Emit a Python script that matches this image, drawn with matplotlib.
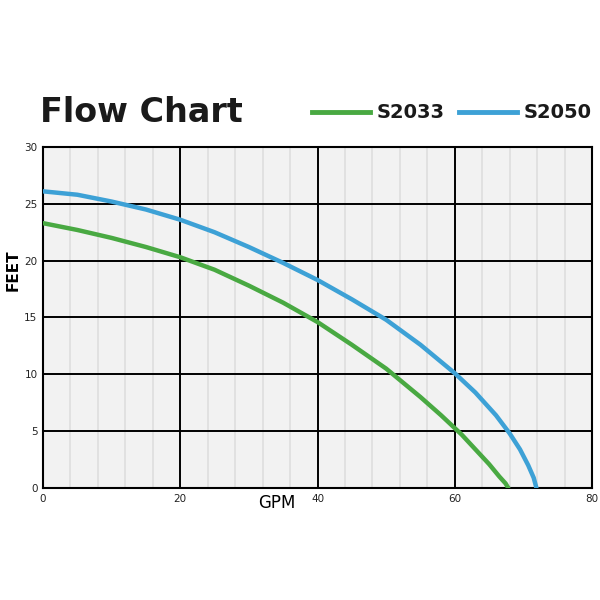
import numpy as np
import matplotlib.pyplot as plt

# pump curves (GPM vs FEET of head)
gpm_s2033 = [0, 5, 10, 15, 20, 25, 30, 35, 40, 45, 50, 55, 58, 61, 63, 65, 66.5, 67.4, 67.8]
feet_s2033 = [23.3, 22.7, 22.0, 21.2, 20.3, 19.2, 17.8, 16.3, 14.6, 12.6, 10.5, 8.0, 6.4, 4.7, 3.4, 2.1, 1.0, 0.4, 0]

gpm_s2050 = [0, 5, 10, 15, 20, 25, 30, 35, 40, 45, 50, 55, 60, 63, 66, 68, 69.5, 70.7, 71.5, 71.9]
feet_s2050 = [26.1, 25.8, 25.2, 24.5, 23.6, 22.5, 21.2, 19.8, 18.3, 16.6, 14.8, 12.6, 10.1, 8.4, 6.4, 4.8, 3.4, 2.0, 0.9, 0]

x_ticks = [0, 20, 40, 60, 80]
y_ticks = [0, 5, 10, 15, 20, 25, 30]
minor_x = [v for v in range(4, 80, 4) if v % 20 != 0]

green = '#49a942'
blue = '#3da1d6'
narrow = ['DejaVu Sans Condensed', 'Liberation Sans Narrow', 'DejaVu Sans']

fig = plt.figure(figsize=(6, 6), dpi=100)
ax = fig.add_axes([0.0717, 0.1867, 0.915, 0.5683])
ax.set_facecolor('#f2f2f2')

for v in minor_x:
    ax.axvline(v, color='#dedede', lw=1.2, zorder=1)
for v in x_ticks[1:-1]:
    ax.axvline(v, color='black', lw=1.4, zorder=2)
for v in y_ticks[1:-1]:
    ax.axhline(v, color='black', lw=1.4, zorder=2)

ax.plot(gpm_s2033, feet_s2033, color=green, lw=3.2, solid_capstyle='round',
        solid_joinstyle='round', zorder=3)
ax.plot(gpm_s2050, feet_s2050, color=blue, lw=3.2, solid_capstyle='round',
        solid_joinstyle='round', zorder=3)

ax.set_xlim(0, 80)
ax.set_ylim(0, 30)
ax.set_xticks(x_ticks)
ax.set_yticks(y_ticks)
ax.tick_params(length=0, labelsize=7.5, pad=4, labelcolor='#222222')
for s in ax.spines.values():
    s.set_linewidth(1.5)

fig.text(0.022, 0.55, 'FEET', rotation=90, ha='center', va='center',
         fontsize=11, fontweight='bold')
fig.text(0.462, 0.162, 'GPM', ha='center', va='center', fontsize=12)

fig.text(0.066, 0.813, 'Flow Chart', ha='left', va='center',
         fontsize=24, fontweight='heavy', color='#1a1a1a')

# legend drawn by hand to match the header layout
fig.add_artist(plt.Line2D([0.52, 0.617], [0.813, 0.813], color=green, lw=3.5,
                          transform=fig.transFigure))
fig.text(0.628, 0.813, 'S2033', ha='left', va='center', fontsize=14,
         fontweight='bold', family=narrow, color='#1a1a1a')
fig.add_artist(plt.Line2D([0.765, 0.862], [0.813, 0.813], color=blue, lw=3.5,
                          transform=fig.transFigure))
fig.text(0.873, 0.813, 'S2050', ha='left', va='center', fontsize=14,
         fontweight='bold', family=narrow, color='#1a1a1a')

fig.savefig('out.png', dpi=100)
